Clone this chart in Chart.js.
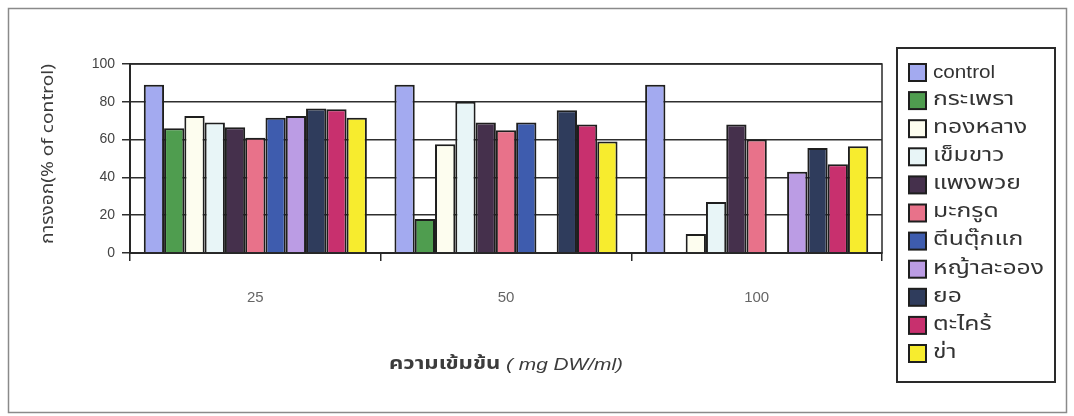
<!DOCTYPE html>
<html>
<head>
<meta charset="utf-8">
<script src="https://cdn.jsdelivr.net/npm/chart.js@4/dist/chart.umd.min.js"></script>
<style>
    html, body { margin: 0; padding: 0; background: #ffffff; }
    #myChart { display: block; }
</style>
</head>
<body>
<canvas id="myChart" width="1074" height="416"></canvas>
<script>
    // ความเข้มข้น (mg DW/ml)
    var categories = ['25', '50', '100'];

    var seriesNames = ['control', 'กระเพรา', 'ทองหลาง', 'เข็มขาว', 'แพงพวย', 'มะกรูด',
        'ตีนตุ๊กแก', 'หญ้าละออง', 'ยอ', 'ตะไคร้', 'ข่า'];

    // การงอก (% of control), null = no bar
    var controlValues = [89, 89, 89];
    var krapraoValues = [66, 18, null];
    var thonglangValues = [72.5, 57.5, 10];
    var khemkhaoValues = [69, 80, 27];
    var phaengphuaiValues = [66.5, 69, 68];
    var makrutValues = [61, 65, 60];
    var teentukkaeValues = [71.5, 69, null];
    var yalaongValues = [72.5, null, 43];
    var yoValues = [76.5, 75.5, 55.5];
    var takhraiValues = [76, 68, 47];
    var khaValues = [71.5, 59, 56.5];

    var yTicks = [0, 20, 40, 60, 80, 100];

    var seriesColors = ['#a3aaf0', '#4f9d4f', '#fdfdef', '#e8f5f7', '#45304c', '#e8728a',
        '#3e5cae', '#bb9ce4', '#2f3c5c', '#c8306e', '#f7ec2e'];

    var allValues = [controlValues, krapraoValues, thonglangValues, khemkhaoValues,
        phaengphuaiValues, makrutValues, teentukkaeValues, yalaongValues, yoValues,
        takhraiValues, khaValues];

    var THAI_FONT = '"Noto Sans Thai", "Loma", "Garuda", "Tlwg Typist", "Liberation Sans", sans-serif';
    var LATIN_FONT = '"Liberation Sans", Arial, sans-serif';

    function buildDatasets() {
        var datasets = [];
        for (var i = 0; i < seriesNames.length; i++) {
            datasets.push({
                label: seriesNames[i],
                data: allValues[i],
                backgroundColor: seriesColors[i],
                borderColor: '#1e1e1e',
                borderWidth: 2,
                borderSkipped: 'bottom',
                barPercentage: 1.0,
                categoryPercentage: 0.89
            });
        }
        return datasets;
    }

    // text in the scan is wider than the fonts we have, stretch it a bit
    function drawStretched(ctx, text, x, y, sx) {
        ctx.save();
        ctx.translate(x, y);
        ctx.scale(sx, 1);
        ctx.fillText(text, 0, 0);
        ctx.restore();
    }

    // frame, plot box, titles and the boxed legend
    var decorPlugin = {
        id: 'decor',
        afterDraw: function (chart) {
            var ctx = chart.ctx;
            var area = chart.chartArea;

            ctx.save();

            // outer frame
            ctx.strokeStyle = '#8a8a8a';
            ctx.lineWidth = 1.5;
            ctx.strokeRect(8.5, 8.5, 1058, 404);

            // plot area box
            ctx.strokeStyle = '#2a2a2a';
            ctx.lineWidth = 1.5;
            ctx.strokeRect(area.left, area.top, area.right - area.left, area.bottom - area.top);

            // y title
            ctx.fillStyle = '#3c3c3c';
            ctx.font = '17px ' + THAI_FONT;
            ctx.textBaseline = 'middle';
            ctx.textAlign = 'left';
            var yTitle = 'การงอก(% of control)';
            var yw = ctx.measureText(yTitle).width;
            var ys = 180 / yw;
            ctx.save();
            ctx.translate(50, 154);
            ctx.rotate(-Math.PI / 2);
            drawStretched(ctx, yTitle, -yw * ys / 2, 0, ys);
            ctx.restore();

            // x title: thai part bold, unit part italic
            var part1 = 'ความเข้มข้น ';
            var part2 = '( mg DW/ml)';
            var font1 = 'bold 17px ' + THAI_FONT;
            var font2 = 'italic 16px ' + LATIN_FONT;
            ctx.font = font1;
            var w1 = ctx.measureText(part1).width;
            ctx.font = font2;
            var w2 = ctx.measureText(part2).width;
            var xs = 234 / (w1 + w2);
            var startX = (area.left + area.right) / 2 - (w1 + w2) * xs / 2;
            ctx.font = font1;
            drawStretched(ctx, part1, startX, 366, xs);
            ctx.font = font2;
            drawStretched(ctx, part2, startX + w1 * xs, 366, xs);

            // legend box
            var box = { x: 897, y: 48, w: 158, h: 334 };
            ctx.strokeStyle = '#2a2a2a';
            ctx.lineWidth = 2;
            ctx.strokeRect(box.x, box.y, box.w, box.h);

            var datasets = chart.data.datasets;
            for (var i = 0; i < datasets.length; i++) {
                var cy = 72 + i * 28.1;
                ctx.fillStyle = datasets[i].backgroundColor;
                ctx.fillRect(909, cy - 8, 17, 17);
                ctx.strokeStyle = '#1e1e1e';
                ctx.lineWidth = 2;
                ctx.strokeRect(909, cy - 8, 17, 17);

                ctx.fillStyle = '#333333';
                ctx.textBaseline = 'middle';
                if (i === 0) {
                    ctx.font = '18px ' + LATIN_FONT;
                    drawStretched(ctx, datasets[i].label, 933, cy + 1, 1.15);
                } else {
                    ctx.font = '19px ' + THAI_FONT;
                    drawStretched(ctx, datasets[i].label, 933, cy + 1, 1.3);
                }
            }

            ctx.restore();
        }
    };

    var ctx = document.getElementById('myChart');

    var myChart = new Chart(ctx, {
        type: 'bar',
        data: {
            labels: categories,
            datasets: buildDatasets()
        },
        plugins: [decorPlugin],
        options: {
            responsive: false,
            animation: false,
            devicePixelRatio: 1,
            layout: {
                padding: { left: 0, top: 64, right: 192, bottom: 0 }
            },
            plugins: {
                legend: { display: false },
                tooltip: { enabled: false },
                title: { display: false }
            },
            scales: {
                x: {
                    afterFit: function (scale) {
                        scale.height = 163;
                    },
                    grid: {
                        display: true,
                        drawOnChartArea: false,
                        drawTicks: true,
                        tickLength: 8,
                        color: '#2a2a2a',
                        lineWidth: 1.5
                    },
                    border: { display: true, color: '#222222', width: 2 },
                    ticks: {
                        color: '#666666',
                        font: { family: LATIN_FONT, size: 15 },
                        padding: 28,
                        maxRotation: 0
                    }
                },
                y: {
                    min: 0,
                    max: 100,
                    afterFit: function (scale) {
                        scale.width = 130;
                    },
                    afterBuildTicks: function (scale) {
                        scale.ticks = yTicks.map(function (v) { return { value: v }; });
                    },
                    grid: {
                        color: '#2e2e2e',
                        lineWidth: 1.5,
                        tickLength: 8
                    },
                    border: { display: true, color: '#222222', width: 2 },
                    ticks: {
                        color: '#444444',
                        font: { family: LATIN_FONT, size: 14 },
                        padding: 7
                    }
                }
            }
        }
    });
</script>
</body>
</html>
